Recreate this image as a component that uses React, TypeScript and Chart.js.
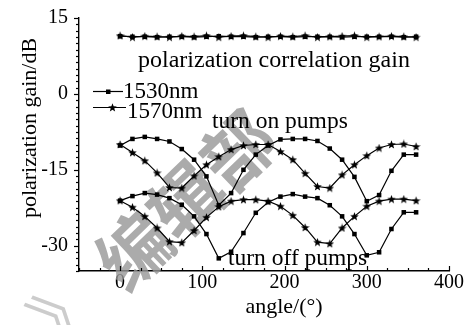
import React, { useEffect, useRef } from 'react';
import { Chart, registerables } from 'chart.js';
Chart.register(...registerables);

// ---- data ----
const angles = [0, 15, 30, 45, 60, 75, 90, 105, 120, 135, 150, 165, 180, 195, 210, 225, 240, 255, 270, 285, 300, 315, 330, 345, 360];
const corr1530 = [11.4, 11.3, 11.3, 11.2, 11.3, 11.3, 11.2, 11.3, 11.4, 11.3, 11.3, 11.2, 11.3, 11.3, 11.2, 11.3, 11.3, 11.3, 11.2, 11.3, 11.3, 11.3, 11.3, 11.2, 11.3];
const corr1570 = [11.5, 11.2, 11.4, 11.3, 11.2, 11.4, 11.3, 11.5, 11.2, 11.4, 11.5, 11.3, 11.2, 11.4, 11.3, 11.5, 11.2, 11.3, 11.4, 11.5, 11.2, 11.3, 11.4, 11.3, 11.2];
const on1530 = [-10.2, -8.9, -8.5, -8.9, -9.4, -10.9, -13.0, -16.3, -22.0, -19.6, -15.0, -12.0, -10.2, -9.0, -8.9, -8.9, -9.3, -10.8, -13.0, -16.4, -21.2, -20.0, -15.2, -12.0, -12.0];
const on1570 = [-10.0, -11.6, -13.2, -15.6, -18.5, -18.6, -16.2, -14.0, -12.4, -11.0, -10.2, -10.0, -10.0, -11.4, -13.0, -15.7, -18.3, -18.6, -16.0, -14.0, -12.2, -10.7, -10.0, -9.9, -10.4];
const off1530 = [-21.1, -20.2, -19.6, -19.9, -20.6, -21.9, -24.2, -27.7, -32.5, -31.2, -27.5, -23.5, -21.4, -20.3, -19.8, -20.3, -20.6, -22.0, -24.2, -27.7, -31.9, -31.3, -26.7, -23.4, -23.4];
const off1570 = [-21.1, -22.4, -24.2, -26.5, -29.2, -29.4, -27.0, -24.4, -22.3, -21.2, -20.9, -20.9, -21.2, -22.2, -24.0, -26.4, -29.3, -29.6, -26.5, -24.2, -22.2, -21.2, -20.8, -20.8, -21.1];
const xTickValues = [0, 100, 200, 300, 400];
const yTickValues = [-30, -15, 0, 15];
const legendLabels = ['1530nm', '1570nm'];

const SERIF = "'Liberation Serif', 'Times New Roman', serif";

function makeStar(): HTMLCanvasElement {
  const c = document.createElement('canvas');
  c.width = 9; c.height = 9;
  const g = c.getContext('2d')!;
  g.fillStyle = '#000';
  g.beginPath();
  for (let i = 0; i < 10; i++) {
    const r = i % 2 === 0 ? 4.5 : 1.9;
    const a = -Math.PI / 2 + (i * Math.PI) / 5;
    const px = 4.5 + r * Math.cos(a);
    const py = 4.8 + r * Math.sin(a);
    if (i === 0) g.moveTo(px, py); else g.lineTo(px, py);
  }
  g.closePath();
  g.fill();
  return c;
}

const toXY = (vals: number[]) => vals.map((v, i) => ({ x: angles[i], y: v }));

export default function App() {
  const ref = useRef<HTMLCanvasElement | null>(null);
  useEffect(() => {
    document.body.style.margin = '0';
    const star = makeStar();
    const sq = { pointStyle: 'rect' as const, pointRadius: 3.2, pointHoverRadius: 3.2 };
    const st = { pointStyle: star as any, pointRadius: 4, pointHoverRadius: 4 };
    const base = { borderColor: '#000', backgroundColor: '#000', pointBackgroundColor: '#000', pointBorderColor: '#000', pointBorderWidth: 0, borderWidth: 1.2, tension: 0, fill: false };

    const overlay = {
      id: 'overlay',
      beforeDatasetsDraw(chart: any) {
        const ctx = chart.ctx as CanvasRenderingContext2D;
        ctx.save();
        ctx.fillStyle = 'rgba(150,150,150,0.8)';
        ctx.font = `bold 72px 'Noto Sans CJK SC', sans-serif`;
        ctx.textAlign = 'center';
        ctx.textBaseline = 'middle';
        ctx.translate(186, 200);
        ctx.rotate(-44 * Math.PI / 180);
        ctx.fillText('编辑部', 0, 0);
        ctx.restore();
        ctx.save();
        ctx.fillStyle = 'rgba(170,170,170,0.6)';
        ctx.font = `66px 'Noto Sans CJK SC', sans-serif`;
        ctx.textAlign = 'center';
        ctx.textBaseline = 'middle';
        ctx.translate(66, 306);
        ctx.rotate(-44 * Math.PI / 180);
        ctx.fillText('》', 0, 0);
        ctx.restore();
      },
      afterDraw(chart: any) {
        const ctx = chart.ctx as CanvasRenderingContext2D;
        const xs = chart.scales.x;
        const ys = chart.scales.y;
        const { left, bottom } = chart.chartArea;
        ctx.save();
        ctx.strokeStyle = '#000';
        ctx.lineWidth = 1.2;
        for (let k = 0; k <= 40; k++) {
          const v = 15 - k * 1.25;
          const py = Math.round(ys.getPixelForValue(v)) + 0.5;
          const len = k % 12 === 0 ? 5 : 3;
          ctx.beginPath();
          ctx.moveTo(left - len, py);
          ctx.lineTo(left, py);
          ctx.stroke();
        }
        for (let k = 0; k <= 18; k++) {
          const v = -50 + k * 25;
          const px = Math.round(xs.getPixelForValue(v)) + 0.5;
          const len = v % 100 === 0 ? 5 : 3;
          ctx.beginPath();
          ctx.moveTo(px, bottom);
          ctx.lineTo(px, bottom - len);
          ctx.stroke();
        }
        ctx.fillStyle = '#000';
        ctx.font = `22px ${SERIF}`;
        ctx.textAlign = 'center';
        ctx.textBaseline = 'alphabetic';
        ctx.fillText('angle/(°)', 284, 313);
        ctx.save();
        ctx.translate(36, 128);
        ctx.rotate(-Math.PI / 2);
        ctx.fillText('polarization gain/dB', 0, 0);
        ctx.restore();
        ctx.textAlign = 'left';
        ctx.font = `24px ${SERIF}`;
        ctx.fillText('polarization correlation gain', 138, 67);
        ctx.font = `23.5px ${SERIF}`;
        ctx.fillText('turn on pumps', 212, 128);
        ctx.fillText('turn off pumps', 228, 265);
        ctx.lineWidth = 1.2;
        ctx.beginPath(); ctx.moveTo(93, 91.5); ctx.lineTo(123, 91.5); ctx.stroke();
        ctx.fillRect(106, 89.5, 4.5, 4.5);
        ctx.beginPath(); ctx.moveTo(93, 107.5); ctx.lineTo(126, 107.5); ctx.stroke();
        ctx.drawImage(star, 108, 103);
        ctx.font = `23px ${SERIF}`;
        ctx.fillText(legendLabels[0], 123, 98);
        ctx.fillText(legendLabels[1], 127, 118);
        ctx.restore();
      },
    };

    const chart = new Chart(ref.current!, {
      type: 'line',
      data: {
        datasets: [
          { ...base, ...sq, label: 'corr 1530nm', data: toXY(corr1530) },
          { ...base, ...st, label: 'corr 1570nm', data: toXY(corr1570) },
          { ...base, ...sq, label: 'on 1530nm', data: toXY(on1530) },
          { ...base, ...st, label: 'on 1570nm', data: toXY(on1570) },
          { ...base, ...sq, label: 'off 1530nm', data: toXY(off1530) },
          { ...base, ...st, label: 'off 1570nm', data: toXY(off1570) },
        ],
      },
      options: {
        animation: false,
        responsive: false,
        devicePixelRatio: 1,
        layout: { padding: { left: 0, right: 23, top: 18, bottom: 0 } },
        plugins: { legend: { display: false }, tooltip: { enabled: false } },
        events: [],
        scales: {
          x: {
            type: 'linear',
            min: -50,
            max: 400,
            afterFit: (s: any) => { s.height = 54; },
            afterBuildTicks: (s: any) => { s.ticks = xTickValues.map((v) => ({ value: v })); },
            grid: { display: false, drawTicks: false },
            border: { display: true, color: '#000', width: 1.4 },
            ticks: { color: '#000', font: { family: SERIF, size: 20 }, padding: 0, maxRotation: 0, autoSkip: false },
          },
          y: {
            type: 'linear',
            min: -35,
            max: 15,
            afterFit: (s: any) => { s.width = 79; },
            afterBuildTicks: (s: any) => { s.ticks = yTickValues.map((v) => ({ value: v })); },
            grid: { display: false, drawTicks: false },
            border: { display: true, color: '#000', width: 1.4 },
            ticks: { color: '#000', font: { family: SERIF, size: 20, lineHeight: 0.5 }, padding: 11, autoSkip: false },
          },
        },
      },
      plugins: [overlay],
    });
    return () => chart.destroy();
  }, []);
  return (
    <div style={{ width: 472, height: 325, background: '#fff' }}>
      <canvas ref={ref} width={472} height={325} style={{ display: 'block' }} />
    </div>
  );
}
